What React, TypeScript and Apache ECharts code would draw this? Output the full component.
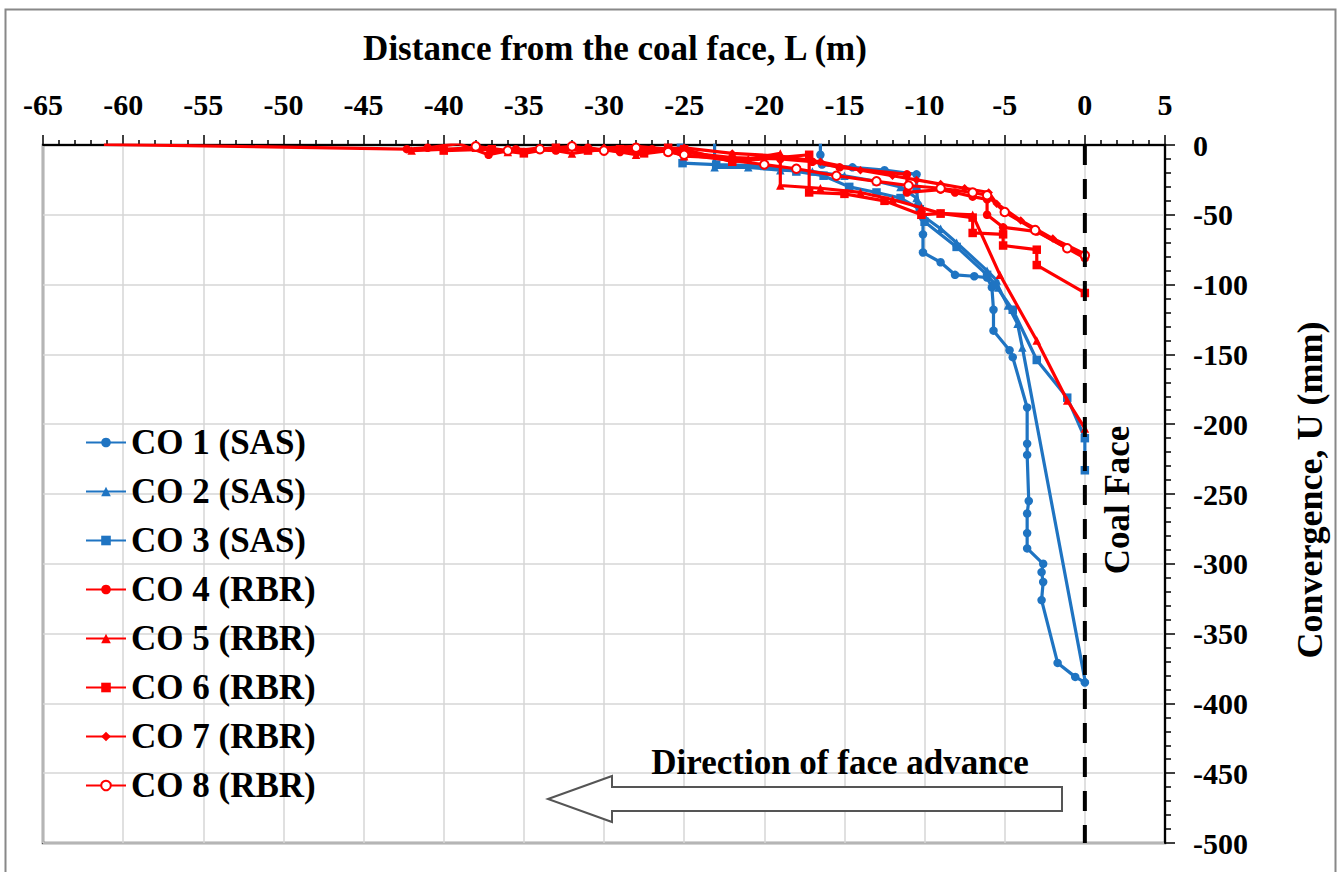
import React, { useEffect, useRef } from "react";
import * as echarts from "echarts";

const seriesNames = [
  "CO 1 (SAS)", "CO 2 (SAS)", "CO 3 (SAS)", "CO 4 (RBR)",
  "CO 5 (RBR)", "CO 6 (RBR)", "CO 7 (RBR)", "CO 8 (RBR)",
];

const co1 = [
  [-16.5, 1], [-16.5, -7], [-16.4, -14], [-14.5, -16], [-12.5, -18], [-10.5, -21], [-10.5, -32],
  [-10.4, -43], [-10.1, -52], [-10.1, -64], [-10.1, -77], [-9, -84], [-8.1, -93], [-6.9, -94],
  [-6.1, -95], [-5.8, -102], [-5.7, -118], [-5.7, -133], [-4.7, -147], [-4.5, -152], [-3.6, -188],
  [-3.6, -214], [-3.6, -222], [-3.5, -255], [-3.6, -264], [-3.6, -278], [-3.6, -289], [-2.6, -300],
  [-2.7, -306], [-2.6, -313], [-2.7, -326], [-1.7, -371], [-0.6, -381], [0, -385],
];
const co2 = [
  [-23.1, 1], [-23.1, -16], [-21, -16], [-19, -18], [-17, -19], [-15, -22], [-13, -26], [-11.5, -30],
  [-10.5, -38], [-10.2, -50], [-9, -60], [-8, -70], [-6.1, -90], [-5.5, -97], [-5.4, -102],
  [-4.8, -115], [-4.2, -128], [-3.9, -145], [0, -383],
];
const co3 = [
  [-25.2, -2], [-25.1, -13], [-23, -14], [-20, -15], [-18, -19], [-16.3, -22], [-14.7, -30],
  [-13, -34], [-11.5, -38], [-10.3, -46], [-10, -55], [-8, -73], [-6.1, -93], [-5.6, -100],
  [-4.5, -118], [-3, -154], [-1.1, -181], [0, -210], [0, -233],
];
const co4 = [
  [-61.2, 0.5], [-42.3, -3], [-41, -2], [-39.1, 1], [-37.2, -7], [-35.5, -3], [-33, -4], [-31, -2],
  [-29, -5], [-27, -3], [-25.2, -5], [-22, -9], [-19, -10], [-17, -12], [-15.3, -16], [-11.1, -21],
  [-11.1, -34], [-9, -32], [-8.1, -34], [-7, -37], [-6.1, -39], [-6.1, -50], [-5.1, -59], [-3, -62],
  [-1.1, -74], [0, -81],
];
const co5 = [
  [-42, -4], [-38, -2], [-36, -5], [-34, -2], [-32, -6], [-30, -3], [-28, -7], [-26, -4], [-25, -8],
  [-21, -10], [-19, -6], [-19, -29], [-16.5, -31], [-14, -34], [-12, -39], [-10.2, -45], [-9, -49],
  [-7, -50], [-5.3, -93], [-3, -140], [-1.1, -183], [0, -203],
];
const co6 = [
  [-40, -4], [-37, -3], [-35, -6], [-33, -2], [-31, -4], [-29, -3], [-27.5, -6], [-26, -2], [-25, -3],
  [-22, -12], [-17.2, -7], [-17.2, -34], [-15, -35], [-12.5, -40], [-10.2, -50], [-9, -49], [-7, -52],
  [-7, -63], [-5.1, -64], [-5.1, -72], [-3, -75], [-3, -86], [0, -106],
];
const co7 = [
  [-30, -2], [-28, -1], [-26, -3], [-25, -2], [-22, -6], [-19, -8], [-16.5, -12], [-14, -18],
  [-12, -22], [-10.5, -25], [-9, -28], [-7.5, -31], [-6, -34], [-5.5, -42], [-4, -54], [-2, -67], [0, -78],
];
const co8 = [
  [-38, -1], [-36, -4], [-34, -3], [-32, -1], [-30, -4], [-28, -2], [-26, -5], [-25, -7], [-20, -14],
  [-18, -17], [-15.5, -22], [-13, -26], [-11, -29], [-9, -31], [-7, -34], [-6.1, -36], [-5, -48],
  [-3.1, -61], [-1.1, -74], [0, -79],
];
const coalFaceLine = [[0, 0], [0, -500]];

const seriesData = [co1, co2, co3, co4, co5, co6, co7, co8];
const seriesColors = ["#1F74C2", "#1F74C2", "#1F74C2", "#FF0000", "#FF0000", "#FF0000", "#FF0000", "#FF0000"];
const seriesSymbols = ["circle", "triangle", "rect", "circle", "triangle", "rect", "diamond", "emptyCircle"];

const FONT = "'Liberation Serif', 'Times New Roman', serif";

export default function App() {
  const ref = useRef<HTMLDivElement>(null);
  useEffect(() => {
    if (!ref.current) return;
    const chart = echarts.init(ref.current, undefined, { renderer: "svg" });
    const lines = seriesData.map((d, i) => ({
      name: seriesNames[i],
      type: "line",
      data: d,
      symbol: seriesSymbols[i],
      symbolSize: 8.5,
      color: seriesColors[i],
      lineStyle: { width: 3.2, color: seriesColors[i] },
      itemStyle: { color: seriesColors[i] },
      z: 2 + i,
    }));
    chart.setOption({
      animation: false,
      backgroundColor: "#fff",
      grid: {
        left: 43, top: 145, right: 173, bottom: 29,
        show: true, borderColor: "#555", borderWidth: 2.5, backgroundColor: "transparent",
      },
      legend: {
        orient: "vertical", left: 80, top: 420, itemWidth: 40, itemHeight: 12, itemGap: 14,
        data: seriesNames,
        textStyle: { fontFamily: FONT, fontWeight: "bold", fontSize: 35, color: "#000" },
      },
      xAxis: {
        type: "value", position: "top", min: -65, max: 5, interval: 5,
        axisLine: { show: true, onZero: false, lineStyle: { color: "#000", width: 2 } },
        axisTick: { show: true, inside: false, length: 10, lineStyle: { color: "#000", width: 1.5 } },
        minorTick: { show: true, splitNumber: 5, length: 5, lineStyle: { color: "#000", width: 1.5 } },
        splitLine: { show: true, lineStyle: { color: "#d6d6d6", width: 1.5 } },
        axisLabel: { fontFamily: FONT, fontWeight: "bold", fontSize: 30, color: "#000", margin: 26 },
      },
      yAxis: {
        type: "value", position: "right", min: -500, max: 0, interval: 50,
        axisLine: { show: true, onZero: false, lineStyle: { color: "#000", width: 2 } },
        axisTick: { show: true, inside: false, length: 10, lineStyle: { color: "#000", width: 1.5 } },
        minorTick: { show: true, splitNumber: 5, length: 6, lineStyle: { color: "#000", width: 1.5 } },
        splitLine: { show: true, lineStyle: { color: "#d6d6d6", width: 1.5 } },
        axisLabel: { fontFamily: FONT, fontWeight: "bold", fontSize: 30, color: "#000", margin: 28, align: "left" },
      },
      series: [
        ...lines,
        {
          name: "Coal Face line",
          type: "line",
          data: coalFaceLine,
          symbol: "none",
          lineStyle: { color: "#000", width: 4, type: [20, 14] },
          z: 20,
          silent: true,
        },
      ],
      graphic: [
        {
          type: "rect", left: 3, top: 7, silent: true,
          shape: { width: 1330, height: 900 },
          style: { fill: "none", stroke: "#888", lineWidth: 2 },
        },
        {
          type: "text", x: 615, y: 48,
          style: { text: "Distance from the coal face, L (m)", fontFamily: FONT, fontWeight: "bold", fontSize: 35, fill: "#000", align: "center", verticalAlign: "middle" },
        },
        {
          type: "text", x: 1310, y: 490, rotation: Math.PI / 2,
          style: { text: "Convergence, U (mm)", fontFamily: FONT, fontWeight: "bold", fontSize: 36, fill: "#000", align: "center", verticalAlign: "middle" },
        },
        {
          type: "text", x: 1117, y: 500, rotation: Math.PI / 2, z: 30,
          style: { text: "Coal Face", fontFamily: FONT, fontWeight: "bold", fontSize: 35, fill: "#000", align: "center", verticalAlign: "middle" },
        },
        {
          type: "text", x: 840, y: 762, z: 30,
          style: { text: "Direction of face advance", fontFamily: FONT, fontWeight: "bold", fontSize: 35, fill: "#000", align: "center", verticalAlign: "middle" },
        },
        {
          type: "polygon", z: 30,
          shape: { points: [[548, 799], [612, 776], [612, 787], [1062, 787], [1062, 811], [612, 811], [612, 822]] },
          style: { fill: "#fff", stroke: "#555", lineWidth: 2 },
        },
      ],
    });
    return () => chart.dispose();
  }, []);
  return <div ref={ref} style={{ position: "absolute", left: 0, top: 0, width: 1338, height: 872 }} />;
}
